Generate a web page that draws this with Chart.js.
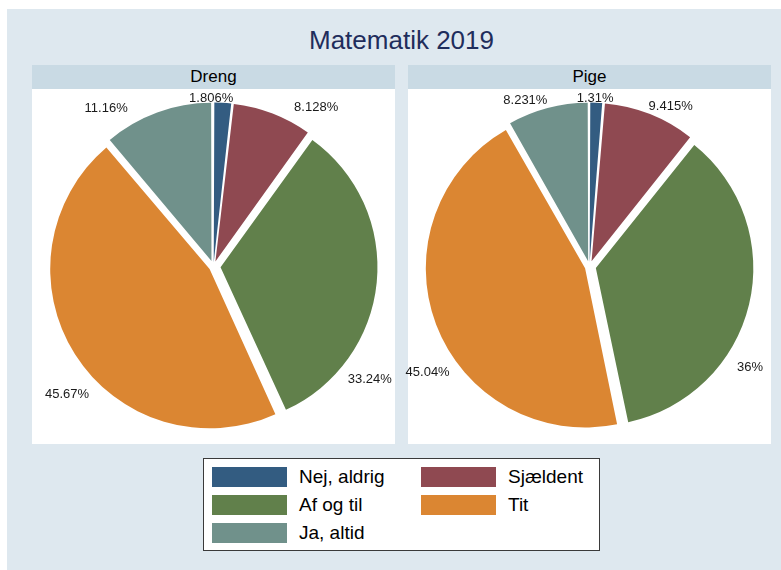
<!DOCTYPE html>
<html>
<head>
<meta charset="utf-8">
<script src="https://cdn.jsdelivr.net/npm/chart.js@4.4.1/dist/chart.umd.min.js"></script>
<style>
html,body{margin:0;padding:0;background:#ffffff;width:781px;height:570px;overflow:hidden;
  font-family:"Liberation Sans",Arial,Helvetica,sans-serif;}
#bg{position:absolute;left:7px;top:9px;width:774px;height:561px;background:#dee8ef;}
#title{position:absolute;left:32px;width:739px;top:24px;height:32px;line-height:32px;text-align:center;
  font-size:26px;color:#1f2d5c;}
.panel{position:absolute;top:65px;width:363px;height:379px;}
.hdr{height:24px;line-height:24px;background:#c9dae4;text-align:center;font-size:17px;color:#000;}
.plot{position:relative;width:363px;height:355px;background:#ffffff;overflow:visible;}
.plot canvas{display:block;position:absolute;left:-10px;top:0;z-index:2;}
#legend{position:absolute;left:203px;top:458px;width:397px;height:93px;box-sizing:border-box;
  border:1px solid #3a3a3a;background:#ffffff;}
.li{position:absolute;height:20px;}
.sw{position:absolute;left:0;top:0;width:75px;height:20px;box-sizing:border-box;}
.lt{position:absolute;left:87px;top:-1px;font-size:19px;line-height:22px;color:#000;white-space:nowrap;}
</style>
</head>
<body>
<div id="bg"></div>
<div id="title"></div>
<div class="panel" id="p0" style="left:32px;"><div class="hdr"></div><div class="plot"><canvas id="c0" width="383" height="355"></canvas></div></div>
<div class="panel" id="p1" style="left:408px;"><div class="hdr"></div><div class="plot"><canvas id="c1" width="383" height="355"></canvas></div></div>
<div id="legend"></div>
<script>
// ---- data ----
const chartTitle = "Matematik 2019";
const panelTitles = ["Dreng", "Pige"];
const categories = ["Nej, aldrig", "Sjældent", "Af og til", "Tit", "Ja, altid"];
const drengValues = [1.806, 8.128, 33.24, 45.67, 11.16];
const pigeValues = [1.31, 9.415, 36, 45.04, 8.231];
const sliceColors = ["#335c81", "#8f4951", "#61804b", "#db8632", "#70918b"];

// ---- layout / style settings ----
const EXPLODE = 8;       // px each slice is pulled out
const PIE_RADIUS = 156;  // px
// label placement: angle (deg, clockwise from 12 o'clock) and distance from pie centre
const labelPlacement = [
  [{deg: 359.2, r: 169}, {deg: 32.7, r: 190}, {deg: 125.5, r: 192}, {deg: 229, r: 194}, {deg: 326, r: 192}],
  [{deg: 1.9, r: 169}, {deg: 26.8, r: 180}, {deg: 121.8, r: 189}, {deg: 237, r: 193}, {deg: 339, r: 179}]
];

document.getElementById('title').textContent = chartTitle;
document.querySelectorAll('.hdr').forEach((h, i) => h.textContent = panelTitles[i]);

// legend (2 columns, row-major)
const legend = document.getElementById('legend');
categories.forEach((c, i) => {
  const col = i % 2, row = Math.floor(i / 2);
  const it = document.createElement('div');
  it.className = 'li';
  it.style.left = (col === 0 ? 8 : 217) + 'px';
  it.style.top = (8 + row * 28) + 'px';
  const sw = document.createElement('div');
  sw.className = 'sw';
  sw.style.background = sliceColors[i];
  const t = document.createElement('div');
  t.className = 'lt';
  t.textContent = c;
  it.appendChild(sw); it.appendChild(t);
  legend.appendChild(it);
});

const pctLabels = {
  id: 'pctLabels',
  afterDatasetsDraw(chart, args, opts) {
    const meta = chart.getDatasetMeta(0);
    const values = chart.data.datasets[0].data;
    const ctx = chart.ctx;
    ctx.save();
    ctx.font = '13px "Liberation Sans", Arial, sans-serif';
    ctx.fillStyle = '#1a1a1a';
    ctx.textAlign = 'center';
    ctx.textBaseline = 'middle';
    meta.data.forEach((arc, i) => {
      const p = opts.place[i];
      const a = p.deg * Math.PI / 180;
      ctx.fillText(values[i] + '%', arc.x + p.r * Math.sin(a), arc.y - p.r * Math.cos(a) + 1);
    });
    ctx.restore();
  }
};

function explodeOffset(ctx) {
  const data = ctx.dataset.data;
  const total = data.reduce((s, v) => s + v, 0);
  const circ = data[ctx.dataIndex] / total * 2 * Math.PI;
  const fix = 1 - Math.sin(Math.min(Math.PI, circ));
  // Chart.js moves an arc by offset/4*(1+fix); solve for a uniform pull-out
  return 4 * EXPLODE / (1 + fix);
}

function makePie(canvasId, values, place) {
  return new Chart(document.getElementById(canvasId), {
    type: 'pie',
    data: {
      labels: categories,
      datasets: [{
        data: values,
        backgroundColor: sliceColors,
        borderWidth: 0,
        offset: explodeOffset
      }]
    },
    options: {
      responsive: false,
      animation: false,
      events: [],
      radius: PIE_RADIUS,
      layout: {padding: 0},
      plugins: {
        legend: {display: false},
        tooltip: {enabled: false},
        pctLabels: {place: place}
      }
    },
    plugins: [pctLabels]
  });
}

makePie('c0', drengValues, labelPlacement[0]);
makePie('c1', pigeValues, labelPlacement[1]);
</script>
</body>
</html>
